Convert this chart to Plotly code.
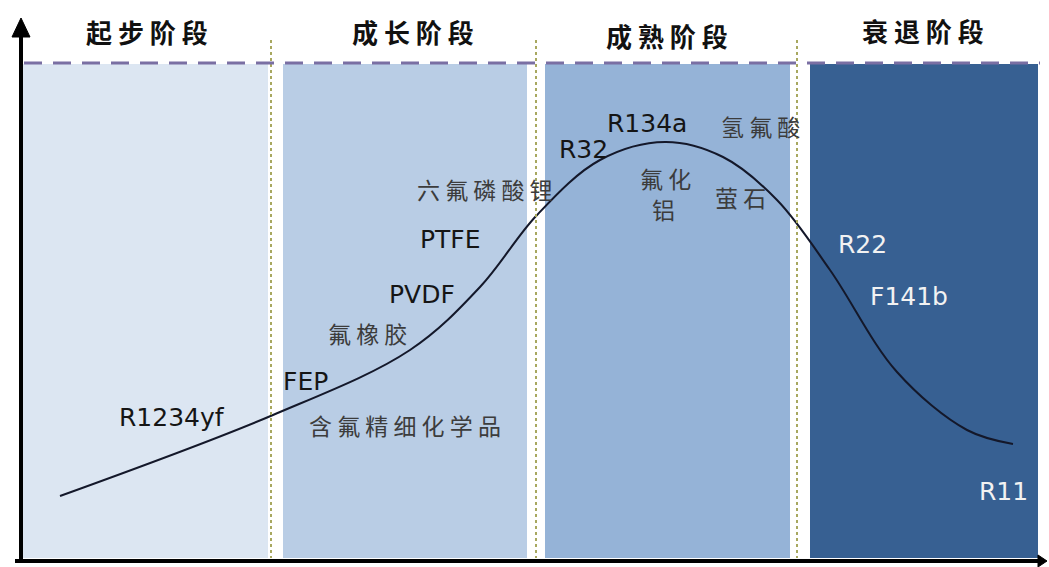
import plotly.graph_objects as go

W, H = 1049, 567

# Lifecycle stages: title, band left/right edge, band colour
stage_titles = ["起步阶段", "成长阶段", "成熟阶段", "衰退阶段"]
stage_title_x = [147, 413, 667, 923]
stage_title_y = [31, 31, 35, 30]
stage_left = [23, 283, 545, 810]
stage_right = [268, 527, 790, 1038]
stage_colors = ["#dce6f2", "#b9cde5", "#95b3d7", "#376092"]
stage_dividers = [271, 536, 797]

# Industry lifecycle curve (horizontal position, height measured from top)
curve_x = [60, 273, 410, 480, 537, 600, 665, 723, 777, 830, 897, 967, 1013]
curve_y = [496, 415, 350, 287, 215, 160, 142, 157, 200, 270, 372, 430, 444]

# Product labels placed along the curve
latin_labels = ["R1234yf", "FEP", "PVDF", "PTFE", "R32", "R134a"]
latin_x = [172, 305, 422, 450, 583, 647]
latin_y = [417, 381, 294, 239, 149, 123]

white_labels = ["R22", "F141b", "R11"]
white_x = [862, 909, 1003]
white_y = [244, 296, 491]

cjk_labels = ["含氟精细化学品", "氟橡胶", "六氟磷酸锂", "氢氟酸", "氟化", "铝", "萤石"]
cjk_x = [405, 367, 485, 760, 665, 663, 740]
cjk_y = [425, 333, 189, 126, 178, 209, 197]


def spaced(s):
    return " ".join(s)


fig = go.Figure()

shapes = []
for x0, x1, c in zip(stage_left, stage_right, stage_colors):
    shapes.append(dict(type="rect", xref="x", yref="y", x0=x0, x1=x1, y0=64, y1=558,
                       fillcolor=c, line=dict(width=0), layer="below"))

for xd in stage_dividers:
    shapes.append(dict(type="line", xref="x", yref="y", x0=xd, x1=xd, y0=40, y1=558,
                       line=dict(color="#a8a860", width=2, dash="3px,3px")))

# dashed ceiling line
shapes.append(dict(type="line", xref="x", yref="y", x0=24, x1=1040, y0=63, y1=63,
                   line=dict(color="#7a6fa3", width=3, dash="18px,11px")))

# axes with arrows
shapes.append(dict(type="line", xref="x", yref="y", x0=21, x1=21, y0=30, y1=563,
                   line=dict(color="black", width=4)))
shapes.append(dict(type="path", xref="x", yref="y",
                   path="M 21 18 L 12 37 L 30 37 Z", fillcolor="black",
                   line=dict(color="black", width=1)))
shapes.append(dict(type="line", xref="x", yref="y", x0=15, x1=1040, y0=561, y1=561,
                   line=dict(color="black", width=4)))
shapes.append(dict(type="path", xref="x", yref="y",
                   path="M 1047 561 L 1038 555 L 1038 567 Z", fillcolor="black",
                   line=dict(color="black", width=1)))

fig.add_trace(go.Scatter(x=curve_x, y=curve_y, mode="lines",
                         line=dict(color="#14182a", width=2, shape="spline", smoothing=1.0),
                         hoverinfo="skip", showlegend=False))

annotations = []
for t, x, y in zip(stage_titles, stage_title_x, stage_title_y):
    annotations.append(dict(x=x, y=y, xref="x", yref="y", text="<b>" + spaced(t) + "</b>",
                            showarrow=False, xanchor="center", yanchor="middle",
                            font=dict(family="Noto Sans CJK SC", size=26, color="#111111")))
for t, x, y in zip(latin_labels, latin_x, latin_y):
    annotations.append(dict(x=x, y=y, xref="x", yref="y", text=t, showarrow=False,
                            xanchor="center", yanchor="middle",
                            font=dict(family="DejaVu Sans", size=25, color="#151515")))
for t, x, y in zip(white_labels, white_x, white_y):
    annotations.append(dict(x=x, y=y, xref="x", yref="y", text=t, showarrow=False,
                            xanchor="center", yanchor="middle",
                            font=dict(family="DejaVu Sans", size=25, color="#f2f2f2")))
for t, x, y in zip(cjk_labels, cjk_x, cjk_y):
    annotations.append(dict(x=x, y=y, xref="x", yref="y", text=spaced(t), showarrow=False,
                            xanchor="center", yanchor="middle",
                            font=dict(family="Noto Sans CJK SC", size=23, color="#3c3c3c")))

fig.update_layout(
    width=W, height=H,
    margin=dict(l=0, r=0, t=0, b=0),
    paper_bgcolor="white", plot_bgcolor="white",
    xaxis=dict(range=[0, W], visible=False, fixedrange=True),
    yaxis=dict(range=[H, 0], visible=False, fixedrange=True),
    shapes=shapes, annotations=annotations,
)

fig.write_html("out.html")
